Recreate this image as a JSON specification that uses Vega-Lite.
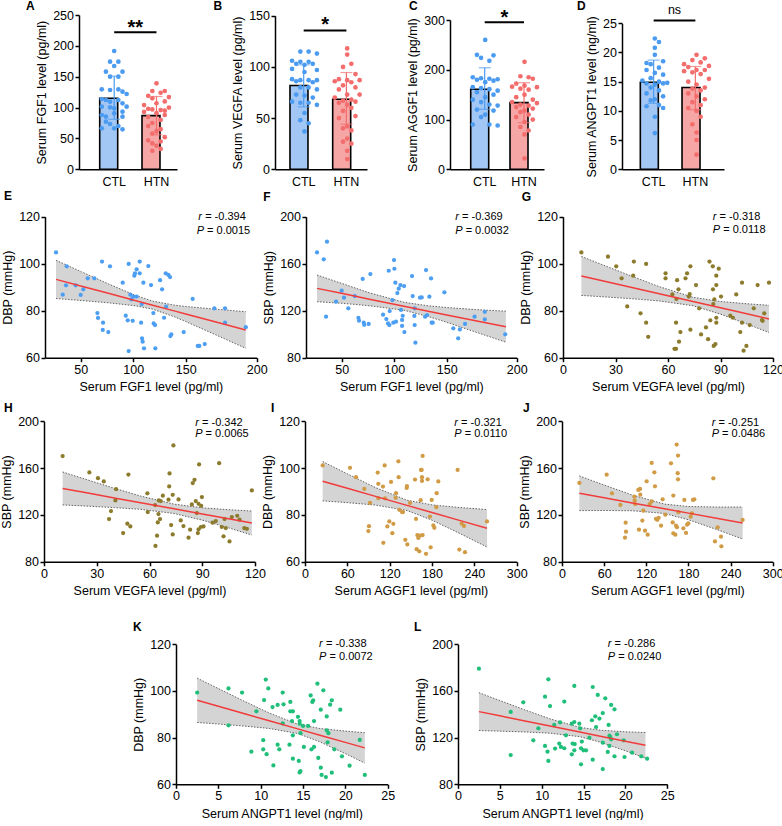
{
"$schema":"https://vega.github.io/schema/vega-lite/v6.json",
"padding":0,
"background":"white",
"config":{
 "view":{"stroke":null},
 "font":"Liberation Sans",
 "axis":{"domainColor":"#000","domainWidth":1.5,"tickColor":"#000","tickWidth":1.5,"tickSize":4,"labelColor":"#000","titleColor":"#000","labelFontSize":12.5,"titleFontSize":12.5,"titleFontWeight":"normal","labelPadding":1.5,"grid":false,"labelFlush":false,"labelOverlap":false,"labelFont":"Liberation Sans","titleFont":"Liberation Sans"},
 "axisY":{"titlePadding":4},
 "axisX":{"titlePadding":5},
 "title":{"anchor":"start","frame":"group","fontSize":12,"fontWeight":"bold","font":"Liberation Sans","baseline":"alphabetic","color":"#000"}
},
"datasets":{
 "sumA":[{"g":"CTL","mean":115,"lo":81,"hi":151},{"g":"HTN","mean":87,"lo":56,"hi":118}],
 "sumB":[{"g":"CTL","mean":81.8,"lo":61,"hi":102},{"g":"HTN","mean":68.4,"lo":44,"hi":94.5}],
 "sumC":[{"g":"CTL","mean":160.7,"lo":120.6,"hi":204},{"g":"HTN","mean":134,"lo":93.8,"hi":174}],
 "sumD":[{"g":"CTL","mean":14.9,"lo":11.3,"hi":18.7},{"g":"HTN","mean":14.0,"lo":10.2,"hi":17.6}],
 "sigA":[{"g1":"CTL","g2":"HTN","y":222,"ty":219.7,"t":"**"}],
 "sigB":[{"g1":"CTL","g2":"HTN","y":135.5,"ty":134.6,"t":"*"}],
 "sigC":[{"g1":"CTL","g2":"HTN","y":295.4,"ty":291.7,"t":"*"}],
 "sigD":[{"g1":"CTL","g2":"HTN","y":25.5,"ty":26.6,"t":"ns"}],
 "dotA":[
  {"g":"CTL","v":191.7,"k":0},{"g":"CTL","v":174.4,"k":-1},{"g":"CTL","v":174.4,"k":1},{"g":"CTL","v":167.4,"k":0},{"g":"CTL","v":158.2,"k":-2},{"g":"CTL","v":158.2,"k":2},{"g":"CTL","v":150.1,"k":-1},{"g":"CTL","v":150.1,"k":1},{"g":"CTL","v":129.6,"k":-3},{"g":"CTL","v":128.5,"k":-1},{"g":"CTL","v":129.6,"k":1},{"g":"CTL","v":125.8,"k":2},{"g":"CTL","v":122.0,"k":3},{"g":"CTL","v":113.9,"k":-3},{"g":"CTL","v":112.3,"k":-2},{"g":"CTL","v":109.6,"k":-1},{"g":"CTL","v":112.3,"k":1},{"g":"CTL","v":106.9,"k":2},{"g":"CTL","v":101.5,"k":3},{"g":"CTL","v":101.5,"k":-3},{"g":"CTL","v":100.4,"k":-1},{"g":"CTL","v":98.8,"k":0},{"g":"CTL","v":93.4,"k":2},{"g":"CTL","v":88.0,"k":-3},{"g":"CTL","v":85.3,"k":-2},{"g":"CTL","v":90.7,"k":0},{"g":"CTL","v":85.3,"k":2},{"g":"CTL","v":77.2,"k":-2},{"g":"CTL","v":73.4,"k":-1},{"g":"CTL","v":70.2,"k":1},{"g":"CTL","v":66.4,"k":-3},{"g":"CTL","v":66.4,"k":0},{"g":"CTL","v":64.8,"k":2},
  {"g":"HTN","v":139.3,"k":0},{"g":"HTN","v":126.9,"k":-1},{"g":"HTN","v":126.9,"k":2},{"g":"HTN","v":124,"k":1},{"g":"HTN","v":119,"k":-2},{"g":"HTN","v":117,"k":3},{"g":"HTN","v":115,"k":-1},{"g":"HTN","v":110,"k":2},{"g":"HTN","v":107,"k":0},{"g":"HTN","v":104,"k":-3},{"g":"HTN","v":100,"k":3},{"g":"HTN","v":98,"k":-2},{"g":"HTN","v":97,"k":-1},{"g":"HTN","v":96,"k":1},{"g":"HTN","v":95,"k":2},{"g":"HTN","v":93,"k":-3},{"g":"HTN","v":91,"k":0},{"g":"HTN","v":88,"k":2},{"g":"HTN","v":85,"k":-2},{"g":"HTN","v":80,"k":1},{"g":"HTN","v":75,"k":-1},{"g":"HTN","v":70,"k":-2},{"g":"HTN","v":65,"k":1},{"g":"HTN","v":62,"k":0},{"g":"HTN","v":58,"k":-1},{"g":"HTN","v":52,"k":2},{"g":"HTN","v":47,"k":-2},{"g":"HTN","v":45,"k":1},{"g":"HTN","v":42,"k":-1},{"g":"HTN","v":38,"k":0},{"g":"HTN","v":33,"k":1},{"g":"HTN","v":30,"k":-1}],
 "dotB":[
  {"g":"CTL","v":115,"k":-1},{"g":"CTL","v":115,"k":1},{"g":"CTL","v":113,"k":3},{"g":"CTL","v":106,"k":-3},{"g":"CTL","v":105,"k":-1},{"g":"CTL","v":105,"k":1},{"g":"CTL","v":103,"k":-2},{"g":"CTL","v":103,"k":2},{"g":"CTL","v":102,"k":0},{"g":"CTL","v":98,"k":-3},{"g":"CTL","v":97,"k":3},{"g":"CTL","v":95,"k":0},{"g":"CTL","v":88,"k":-3},{"g":"CTL","v":87,"k":-1},{"g":"CTL","v":87,"k":1},{"g":"CTL","v":87,"k":3},{"g":"CTL","v":86,"k":-2},{"g":"CTL","v":85,"k":2},{"g":"CTL","v":80,"k":-1},{"g":"CTL","v":80,"k":1},{"g":"CTL","v":78,"k":3},{"g":"CTL","v":73,"k":-2},{"g":"CTL","v":72,"k":0},{"g":"CTL","v":70,"k":2},{"g":"CTL","v":66,"k":-3},{"g":"CTL","v":65,"k":-1},{"g":"CTL","v":65,"k":1},{"g":"CTL","v":63,"k":3},{"g":"CTL","v":55,"k":0},{"g":"CTL","v":48,"k":-1},{"g":"CTL","v":45,"k":1},{"g":"CTL","v":37,"k":0},
  {"g":"HTN","v":118,"k":0},{"g":"HTN","v":112,"k":0},{"g":"HTN","v":103,"k":1},{"g":"HTN","v":100,"k":-1},{"g":"HTN","v":93,"k":2},{"g":"HTN","v":88,"k":-2},{"g":"HTN","v":87,"k":0},{"g":"HTN","v":87,"k":3},{"g":"HTN","v":86,"k":-3},{"g":"HTN","v":85,"k":1},{"g":"HTN","v":82,"k":-1},{"g":"HTN","v":80,"k":2},{"g":"HTN","v":78,"k":-2},{"g":"HTN","v":73,"k":0},{"g":"HTN","v":73,"k":3},{"g":"HTN","v":70,"k":-3},{"g":"HTN","v":68,"k":1},{"g":"HTN","v":67,"k":-1},{"g":"HTN","v":66,"k":2},{"g":"HTN","v":65,"k":-2},{"g":"HTN","v":63,"k":0},{"g":"HTN","v":60,"k":1},{"g":"HTN","v":57,"k":-1},{"g":"HTN","v":52,"k":2},{"g":"HTN","v":50,"k":-2},{"g":"HTN","v":42,"k":0},{"g":"HTN","v":40,"k":-1},{"g":"HTN","v":38,"k":1},{"g":"HTN","v":30,"k":0},{"g":"HTN","v":27,"k":-1},{"g":"HTN","v":25,"k":1},{"g":"HTN","v":18,"k":0},{"g":"HTN","v":10,"k":0}],
 "dotC":[
  {"g":"CTL","v":260,"k":0},{"g":"CTL","v":230,"k":-2},{"g":"CTL","v":229,"k":2},{"g":"CTL","v":224,"k":-1},{"g":"CTL","v":218,"k":1},{"g":"CTL","v":185,"k":-3},{"g":"CTL","v":183,"k":-1},{"g":"CTL","v":182,"k":1},{"g":"CTL","v":181,"k":3},{"g":"CTL","v":180,"k":-2},{"g":"CTL","v":178,"k":2},{"g":"CTL","v":175,"k":0},{"g":"CTL","v":165,"k":-3},{"g":"CTL","v":163,"k":-1},{"g":"CTL","v":161,"k":1},{"g":"CTL","v":158,"k":3},{"g":"CTL","v":155,"k":-2},{"g":"CTL","v":150,"k":2},{"g":"CTL","v":145,"k":0},{"g":"CTL","v":140,"k":-3},{"g":"CTL","v":135,"k":-1},{"g":"CTL","v":130,"k":1},{"g":"CTL","v":128,"k":3},{"g":"CTL","v":120,"k":-2},{"g":"CTL","v":118,"k":2},{"g":"CTL","v":110,"k":0},{"g":"CTL","v":105,"k":-1},{"g":"CTL","v":90,"k":-3},{"g":"CTL","v":90,"k":1},{"g":"CTL","v":88,"k":3},
  {"g":"HTN","v":216,"k":0},{"g":"HTN","v":187,"k":-1},{"g":"HTN","v":185,"k":1},{"g":"HTN","v":182,"k":2},{"g":"HTN","v":172,"k":-2},{"g":"HTN","v":168,"k":0},{"g":"HTN","v":166,"k":-3},{"g":"HTN","v":165,"k":3},{"g":"HTN","v":162,"k":-1},{"g":"HTN","v":160,"k":1},{"g":"HTN","v":150,"k":0},{"g":"HTN","v":145,"k":-2},{"g":"HTN","v":140,"k":2},{"g":"HTN","v":135,"k":-3},{"g":"HTN","v":133,"k":3},{"g":"HTN","v":130,"k":-1},{"g":"HTN","v":128,"k":1},{"g":"HTN","v":125,"k":-2},{"g":"HTN","v":122,"k":2},{"g":"HTN","v":118,"k":0},{"g":"HTN","v":115,"k":-1},{"g":"HTN","v":110,"k":1},{"g":"HTN","v":105,"k":-2},{"g":"HTN","v":100,"k":2},{"g":"HTN","v":95,"k":0},{"g":"HTN","v":85,"k":-1},{"g":"HTN","v":78,"k":1},{"g":"HTN","v":70,"k":0},{"g":"HTN","v":22,"k":0}],
 "dotD":[
  {"g":"CTL","v":22.4,"k":0},{"g":"CTL","v":21.8,"k":1},{"g":"CTL","v":20.8,"k":0},{"g":"CTL","v":19.6,"k":0},{"g":"CTL","v":18.5,"k":2},{"g":"CTL","v":18.2,"k":-2},{"g":"CTL","v":18.0,"k":-1},{"g":"CTL","v":17.4,"k":1},{"g":"CTL","v":17.0,"k":-2},{"g":"CTL","v":16.5,"k":0},{"g":"CTL","v":16.2,"k":2},{"g":"CTL","v":15.6,"k":-1},{"g":"CTL","v":15.2,"k":-3},{"g":"CTL","v":15.0,"k":1},{"g":"CTL","v":14.8,"k":3},{"g":"CTL","v":14.7,"k":-2},{"g":"CTL","v":14.7,"k":2},{"g":"CTL","v":14.5,"k":0},{"g":"CTL","v":14.0,"k":-1},{"g":"CTL","v":13.5,"k":1},{"g":"CTL","v":13.0,"k":-2},{"g":"CTL","v":12.5,"k":2},{"g":"CTL","v":12.0,"k":0},{"g":"CTL","v":11.8,"k":-1},{"g":"CTL","v":11.0,"k":1},{"g":"CTL","v":10.8,"k":-2},{"g":"CTL","v":10.5,"k":2},{"g":"CTL","v":9.0,"k":0},{"g":"CTL","v":6.2,"k":0},
  {"g":"HTN","v":19.6,"k":0},{"g":"HTN","v":19.0,"k":2},{"g":"HTN","v":18.7,"k":-1},{"g":"HTN","v":18.3,"k":1},{"g":"HTN","v":18.0,"k":-3},{"g":"HTN","v":17.7,"k":3},{"g":"HTN","v":17.5,"k":-2},{"g":"HTN","v":17.0,"k":0},{"g":"HTN","v":17.0,"k":2},{"g":"HTN","v":16.8,"k":-3},{"g":"HTN","v":16.6,"k":-1},{"g":"HTN","v":16.3,"k":1},{"g":"HTN","v":15.5,"k":3},{"g":"HTN","v":15.0,"k":-2},{"g":"HTN","v":14.5,"k":0},{"g":"HTN","v":14.0,"k":2},{"g":"HTN","v":13.8,"k":-1},{"g":"HTN","v":13.5,"k":1},{"g":"HTN","v":13.0,"k":-2},{"g":"HTN","v":12.5,"k":0},{"g":"HTN","v":12.0,"k":2},{"g":"HTN","v":11.5,"k":-1},{"g":"HTN","v":11.0,"k":1},{"g":"HTN","v":10.5,"k":-2},{"g":"HTN","v":10.0,"k":0},{"g":"HTN","v":9.0,"k":1},{"g":"HTN","v":7.7,"k":-1},{"g":"HTN","v":6.3,"k":0},{"g":"HTN","v":5.0,"k":0},{"g":"HTN","v":2.5,"k":0}],
 "ptE":[{"x":26.5,"y":104.8},{"x":36.7,"y":98.9},{"x":36.0,"y":90.8},{"x":32.9,"y":86.8},{"x":45.2,"y":90.8},{"x":50,"y":86.7},{"x":52.5,"y":89.1},{"x":56.7,"y":93.8},{"x":63.0,"y":93.8},{"x":65.9,"y":79.0},{"x":66.5,"y":76.9},{"x":70.3,"y":100.9},{"x":71.3,"y":74.9},{"x":71.0,"y":71.8},{"x":76.3,"y":70.9},{"x":77.9,"y":98.9},{"x":90.0,"y":91.9},{"x":92.9,"y":77.9},{"x":94.8,"y":75.9},{"x":95.7,"y":99.9},{"x":95.7,"y":62.8},{"x":97.3,"y":86.8},{"x":98.3,"y":84.8},{"x":100.2,"y":86.0},{"x":99.5,"y":75.7},{"x":101.1,"y":94.9},{"x":101.7,"y":95.9},{"x":103.3,"y":97.6},{"x":103.3,"y":86.0},{"x":106.2,"y":100.9},{"x":106.2,"y":95.9},{"x":107.5,"y":74.9},{"x":108.1,"y":82.8},{"x":108.4,"y":68.2},{"x":109.0,"y":66.8},{"x":109.7,"y":91.9},{"x":110.3,"y":64.0},{"x":114.4,"y":99.0},{"x":117.0,"y":90.9},{"x":119.2,"y":79.0},{"x":119.5,"y":74.6},{"x":120.8,"y":73.9},{"x":121.1,"y":64.0},{"x":125.6,"y":93.0},{"x":127.5,"y":89.1},{"x":129.4,"y":77.0},{"x":131.0,"y":95.9},{"x":131.3,"y":81.7},{"x":133.5,"y":95.2},{"x":135.1,"y":94.3},{"x":135.4,"y":69.2},{"x":136.3,"y":69.9},{"x":148.1,"y":70.9},{"x":154.9,"y":85.0},{"x":158.5,"y":65.0},{"x":159.6,"y":65.0},{"x":163.4,"y":65.8},{"x":170.2,"y":81.0},{"x":177.7,"y":81.0},{"x":177.7,"y":74.9},{"x":192.3,"y":73.0}],
 "fitE":[{"x":26.5,"y":93.33,"lo":85.19,"hi":101.47},{"x":50.95,"y":90.41,"lo":84.32,"hi":96.5},{"x":76.35,"y":87.39,"lo":83.36,"hi":91.42},{"x":101.75,"y":84.35,"lo":82.11,"hi":86.6},{"x":118.57,"y":82.35,"lo":80.65,"hi":84.06},{"x":139.84,"y":79.82,"lo":77.3,"hi":82.33},{"x":150,"y":78.6,"lo":75.39,"hi":81.8},{"x":170.66,"y":75.26,"lo":69.86,"hi":80.67},{"x":192.3,"y":71.77,"lo":63.99,"hi":79.56}],
 "annE":[{"x":158.9,"y":120,"sym":"r","val":"= -0.394"},{"x":157.7,"y":114,"sym":"P","val":"= 0.0015"}],
 "ptF":[{"x":26.5,"y":169.6},{"x":32.9,"y":163.7},{"x":36.0,"y":178.7},{"x":35.1,"y":114.9},{"x":44.6,"y":127.7},{"x":50,"y":137.0},{"x":52.2,"y":131.1},{"x":56.3,"y":122.0},{"x":62.4,"y":132.5},{"x":65.9,"y":114.0},{"x":66.5,"y":111.5},{"x":70.0,"y":147.0},{"x":71.0,"y":109.8},{"x":71.5,"y":108.0},{"x":75.7,"y":108.7},{"x":77.3,"y":151.2},{"x":89.4,"y":116.6},{"x":92.5,"y":112.9},{"x":94.1,"y":109.2},{"x":94.8,"y":154.0},{"x":95.4,"y":107.8},{"x":95.7,"y":119.7},{"x":98.3,"y":129.1},{"x":99.2,"y":109.8},{"x":99.8,"y":163.1},{"x":100.2,"y":155.7},{"x":101.1,"y":143.8},{"x":101.7,"y":110.6},{"x":103.0,"y":135.0},{"x":104.3,"y":138.7},{"x":105.9,"y":141.8},{"x":106.5,"y":120.6},{"x":107.5,"y":112.1},{"x":107.5,"y":107.0},{"x":108.1,"y":115.7},{"x":109.4,"y":141.0},{"x":109.7,"y":101.8},{"x":117.0,"y":149.5},{"x":117.6,"y":132.5},{"x":119.2,"y":115.5},{"x":119.5,"y":122.0},{"x":119.5,"y":107.8},{"x":120.2,"y":92.8},{"x":124.6,"y":131.1},{"x":126.2,"y":131.3},{"x":129.4,"y":114.9},{"x":130.3,"y":154.6},{"x":131.3,"y":116.3},{"x":133.5,"y":131.9},{"x":135.1,"y":147.5},{"x":135.7,"y":109.8},{"x":136.7,"y":109.8},{"x":147.8,"y":135.6},{"x":154.7,"y":105.0},{"x":158.2,"y":96.5},{"x":159.4,"y":104.1},{"x":163.1,"y":108.7},{"x":169.9,"y":114.9},{"x":177.2,"y":119.1},{"x":177.2,"y":112.6},{"x":191.8,"y":99.9}],
 "fitF":[{"x":26.5,"y":139.01,"lo":127.66,"hi":150.35},{"x":50.95,"y":134.59,"lo":126.24,"hi":142.94},{"x":76.35,"y":129.72,"lo":124.21,"hi":135.23},{"x":109.37,"y":123.76,"lo":120.36,"hi":127.16},{"x":133.5,"y":119.4,"lo":114.76,"hi":124.04},{"x":150,"y":116.43,"lo":110.13,"hi":122.73},{"x":170.66,"y":111.38,"lo":101.79,"hi":120.96},{"x":192.3,"y":106.38,"lo":93.19,"hi":119.57}],
 "annF":[{"x":156.1,"y":200,"sym":"r","val":"= -0.369"},{"x":156.1,"y":188.1,"sym":"P","val":"= 0.0032"}],
 "ptG":[{"x":10.5,"y":104.8},{"x":25.7,"y":103.0},{"x":30.4,"y":98.9},{"x":33.5,"y":93.8},{"x":36.7,"y":81.8},{"x":40.5,"y":100.9},{"x":40.1,"y":94.9},{"x":44.3,"y":78.9},{"x":47.5,"y":99.9},{"x":47.5,"y":74.9},{"x":48.7,"y":68.9},{"x":58.6,"y":95.9},{"x":58.6,"y":93.8},{"x":62.5,"y":86.9},{"x":63.7,"y":63.8},{"x":64.6,"y":63.8},{"x":64.6,"y":74.9},{"x":64.8,"y":85.0},{"x":65.2,"y":93.0},{"x":66.0,"y":89.1},{"x":66.3,"y":66.8},{"x":67.1,"y":70.9},{"x":70.0,"y":93.8},{"x":70.9,"y":95.9},{"x":71.9,"y":86.0},{"x":72.4,"y":87.1},{"x":72.8,"y":98.9},{"x":72.8,"y":71.9},{"x":76.0,"y":90.9},{"x":77.8,"y":81.0},{"x":78.9,"y":69.9},{"x":81.7,"y":72.9},{"x":82.9,"y":67.9},{"x":83.7,"y":100.9},{"x":84.2,"y":75.9},{"x":85.6,"y":98.9},{"x":85.7,"y":89.1},{"x":85.9,"y":82.8},{"x":86.1,"y":65.0},{"x":86.5,"y":84.8},{"x":87.1,"y":65.8},{"x":87.6,"y":90.9},{"x":87.6,"y":94.9},{"x":87.6,"y":77.0},{"x":87.6,"y":74.9},{"x":89.0,"y":97.9},{"x":90.3,"y":86.0},{"x":95.6,"y":77.9},{"x":97.1,"y":77.0},{"x":99.0,"y":86.9},{"x":101.3,"y":70.9},{"x":102.3,"y":74.9},{"x":102.3,"y":91.9},{"x":103.2,"y":63.0},{"x":104.8,"y":65.0},{"x":106.7,"y":73.9},{"x":109.0,"y":81.0},{"x":111.2,"y":90.9},{"x":113.7,"y":76.0},{"x":114.1,"y":75.7},{"x":115.0,"y":78.9},{"x":117.7,"y":91.9}],
 "fitG":[{"x":10.5,"y":94.8,"lo":86.5,"hi":103.1},{"x":25,"y":92.32,"lo":85.81,"hi":98.83},{"x":40,"y":89.76,"lo":85.05,"hi":94.47},{"x":55,"y":87.2,"lo":84.16,"hi":90.24},{"x":74.3,"y":83.91,"lo":82.11,"hi":85.71},{"x":90,"y":81.23,"lo":78.54,"hi":83.92},{"x":105,"y":78.67,"lo":74.38,"hi":82.96},{"x":117.7,"y":76.5,"lo":70.7,"hi":82.3}],
 "annG":[{"x":85.6,"y":120,"sym":"r","val":"= -0.318"},{"x":85.6,"y":114.3,"sym":"P","val":"= 0.0118"}],
 "ptH":[{"x":10.6,"y":170.2},{"x":25.8,"y":156.3},{"x":30.7,"y":151.4},{"x":34.0,"y":148.6},{"x":37.0,"y":116.5},{"x":38.1,"y":123.3},{"x":41.0,"y":142.0},{"x":40.6,"y":132.4},{"x":45.0,"y":104.5},{"x":48.0,"y":154.5},{"x":47.4,"y":112.5},{"x":49.1,"y":110.2},{"x":58.8,"y":138.4},{"x":59.0,"y":122.4},{"x":63.2,"y":128.4},{"x":63.4,"y":93.5},{"x":64.3,"y":102.3},{"x":64.7,"y":113.6},{"x":65.1,"y":120.7},{"x":65.3,"y":132.4},{"x":66.0,"y":116.5},{"x":66.4,"y":131.8},{"x":67.6,"y":136.4},{"x":70.8,"y":133.0},{"x":71.2,"y":144.3},{"x":71.4,"y":155.4},{"x":72.3,"y":111.4},{"x":73.2,"y":137.2},{"x":73.2,"y":103.4},{"x":73.6,"y":179.3},{"x":76.5,"y":133.2},{"x":77.8,"y":115.3},{"x":79.3,"y":110.5},{"x":82.2,"y":100.6},{"x":83.1,"y":107.4},{"x":84.1,"y":129.0},{"x":84.6,"y":147.2},{"x":85.6,"y":150.0},{"x":86.3,"y":131.8},{"x":86.9,"y":121.6},{"x":87.5,"y":104.5},{"x":87.9,"y":129.5},{"x":87.9,"y":107.7},{"x":88.2,"y":163.1},{"x":89.2,"y":109.7},{"x":89.4,"y":127.8},{"x":89.8,"y":135.2},{"x":90.7,"y":110.2},{"x":95.8,"y":113.4},{"x":97.7,"y":114.8},{"x":99.6,"y":164.2},{"x":101.1,"y":109.7},{"x":102.1,"y":101.7},{"x":102.7,"y":116.5},{"x":103.4,"y":108.8},{"x":105.5,"y":97.4},{"x":106.8,"y":118.2},{"x":109.9,"y":119.3},{"x":111.2,"y":115.9},{"x":113.9,"y":108.8},{"x":115.4,"y":108.2},{"x":118.2,"y":140.9}],
 "fitH":[{"x":10.6,"y":142.6,"lo":128.55,"hi":156.65},{"x":25,"y":138.65,"lo":127.5,"hi":149.8},{"x":40,"y":134.5,"lo":126.25,"hi":142.75},{"x":55,"y":130.43,"lo":124.76,"hi":136.1},{"x":73.9,"y":125.24,"lo":121.24,"hi":129.24},{"x":90,"y":120.83,"lo":115.56,"hi":126.1},{"x":105,"y":116.71,"lo":108.98,"hi":124.44},{"x":118.2,"y":113.1,"lo":102.85,"hi":123.35}],
 "annH":[{"x":86,"y":198.3,"sym":"r","val":"= -0.342"},{"x":86,"y":189.2,"sym":"P","val":"= 0.0065"}],
 "ptI":[{"x":25.0,"y":101.1},{"x":63.8,"y":100.1},{"x":72.3,"y":96.1},{"x":84.1,"y":91.1},{"x":92.1,"y":85.1},{"x":90.7,"y":75.2},{"x":89.8,"y":73.1},{"x":103.0,"y":98.1},{"x":103.9,"y":93.3},{"x":103.9,"y":87.1},{"x":110.5,"y":92.1},{"x":111.0,"y":68.1},{"x":112.9,"y":101.1},{"x":113.4,"y":87.1},{"x":116.7,"y":75.1},{"x":119.5,"y":77.2},{"x":121.9,"y":94.1},{"x":125.2,"y":76.2},{"x":123.8,"y":72.2},{"x":129.0,"y":89.3},{"x":128.5,"y":87.3},{"x":132.3,"y":102.9},{"x":132.7,"y":96.1},{"x":133.7,"y":82.2},{"x":137.5,"y":81.2},{"x":138.9,"y":81.2},{"x":142.2,"y":69.4},{"x":144.1,"y":91.5},{"x":144.5,"y":92.3},{"x":145.0,"y":67.4},{"x":148.8,"y":85.1},{"x":155.9,"y":95.1},{"x":157.3,"y":78.3},{"x":158.2,"y":65.4},{"x":159.2,"y":71.4},{"x":160.6,"y":70.2},{"x":162.0,"y":64.5},{"x":163.0,"y":71.2},{"x":163.9,"y":86.3},{"x":164.4,"y":99.2},{"x":165.3,"y":99.2},{"x":165.8,"y":96.1},{"x":165.8,"y":94.5},{"x":166.7,"y":105.2},{"x":166.7,"y":71.4},{"x":171.5,"y":63.4},{"x":173.8,"y":95.2},{"x":177.1,"y":79.3},{"x":178.1,"y":66.2},{"x":179.5,"y":86.4},{"x":181.9,"y":75.5},{"x":183.3,"y":74.5},{"x":186.1,"y":83.3},{"x":186.6,"y":89.3},{"x":188.9,"y":94.3},{"x":216.3,"y":99.2},{"x":218.7,"y":65.2},{"x":222.0,"y":76.3},{"x":225.3,"y":75.3},{"x":226.7,"y":64.1},{"x":257.9,"y":77.2}],
 "fitI":[{"x":25,"y":94.4,"lo":86.0,"hi":102.8},{"x":60,"y":91.38,"lo":85.24,"hi":97.52},{"x":100,"y":87.93,"lo":84.2,"hi":91.66},{"x":144.5,"y":84.09,"lo":81.89,"hi":86.29},{"x":180,"y":81.03,"lo":77.77,"hi":84.29},{"x":220,"y":77.57,"lo":72.0,"hi":83.14},{"x":257.9,"y":74.3,"lo":66.3,"hi":82.3}],
 "annI":[{"x":211.6,"y":119.1,"sym":"r","val":"= -0.321"},{"x":211.6,"y":114.6,"sym":"P","val":"= 0.0110"}],
 "ptJ":[{"x":24.7,"y":147.3},{"x":63.6,"y":154.4},{"x":71.2,"y":138.5},{"x":83.1,"y":128.5},{"x":89.7,"y":100.6},{"x":90.6,"y":113.4},{"x":91.1,"y":105.7},{"x":103.0,"y":135.6},{"x":103.5,"y":132.2},{"x":104.0,"y":129.3},{"x":108.7,"y":141.3},{"x":109.6,"y":107.4},{"x":111.1,"y":142.2},{"x":111.5,"y":137.3},{"x":114.4,"y":115.2},{"x":115.8,"y":123.6},{"x":118.2,"y":106.6},{"x":120.5,"y":148.7},{"x":122.0,"y":103.1},{"x":124.8,"y":129.3},{"x":127.7,"y":131.5},{"x":127.7,"y":164.4},{"x":131.5,"y":156.4},{"x":132.4,"y":144.4},{"x":133.8,"y":116.7},{"x":135.7,"y":115.8},{"x":137.6,"y":117.5},{"x":141.0,"y":110.8},{"x":143.3,"y":133.3},{"x":147.1,"y":120.2},{"x":155.2,"y":164.1},{"x":157.6,"y":113.6},{"x":158.5,"y":136.5},{"x":158.5,"y":104.3},{"x":161.4,"y":103.1},{"x":162.3,"y":110.8},{"x":163.3,"y":180.1},{"x":164.7,"y":155.6},{"x":165.2,"y":150.4},{"x":165.2,"y":170.7},{"x":165.7,"y":122.3},{"x":163.7,"y":109.5},{"x":172.8,"y":108.6},{"x":174.2,"y":132.8},{"x":176.6,"y":104.6},{"x":178.0,"y":111.7},{"x":179.9,"y":112.8},{"x":183.2,"y":118.5},{"x":185.1,"y":121.4},{"x":186.5,"y":132.8},{"x":188.4,"y":133.3},{"x":215.5,"y":151.3},{"x":217.8,"y":97.4},{"x":221.6,"y":109.4},{"x":226.4,"y":101.4},{"x":226.9,"y":93.2},{"x":257.2,"y":115.7}],
 "fitJ":[{"x":24.7,"y":138.5,"lo":123.7,"hi":153.3},{"x":60,"y":134.65,"lo":123.79,"hi":145.51},{"x":100,"y":130.28,"lo":123.56,"hi":137.0},{"x":146,"y":125.25,"lo":121.25,"hi":129.25},{"x":180,"y":121.54,"lo":115.89,"hi":127.19},{"x":220,"y":117.17,"lo":107.6,"hi":126.74},{"x":257.2,"y":113.1,"lo":99.45,"hi":126.75}],
 "annJ":[{"x":213.1,"y":198.3,"sym":"r","val":"= -0.251"},{"x":213.1,"y":189.2,"sym":"P","val":"= 0.0486"}],
 "ptK":[{"x":2.5,"y":99.3},{"x":6.2,"y":101.1},{"x":6.2,"y":85.3},{"x":7.8,"y":99.3},{"x":9.5,"y":91.3},{"x":8.9,"y":74.0},{"x":10.3,"y":78.9},{"x":10.3,"y":75.0},{"x":10.6,"y":104.9},{"x":10.7,"y":72.9},{"x":10.9,"y":101.1},{"x":10.4,"y":96.1},{"x":11.4,"y":93.1},{"x":11.5,"y":68.1},{"x":12.0,"y":94.0},{"x":12.0,"y":77.0},{"x":12.2,"y":75.0},{"x":12.6,"y":99.3},{"x":12.7,"y":94.3},{"x":12.6,"y":86.1},{"x":13.5,"y":95.3},{"x":13.4,"y":77.0},{"x":13.5,"y":91.3},{"x":13.8,"y":91.3},{"x":13.7,"y":87.1},{"x":13.8,"y":81.0},{"x":13.8,"y":71.0},{"x":14.4,"y":88.9},{"x":14.5,"y":70.0},{"x":14.6,"y":87.1},{"x":14.6,"y":86.0},{"x":14.6,"y":65.1},{"x":14.7,"y":65.7},{"x":14.7,"y":81.9},{"x":15.0,"y":85.0},{"x":15.1,"y":76.0},{"x":15.6,"y":85.0},{"x":15.9,"y":98.1},{"x":16.1,"y":95.3},{"x":16.2,"y":96.0},{"x":16.0,"y":75.0},{"x":16.3,"y":76.0},{"x":16.3,"y":87.1},{"x":16.7,"y":103.1},{"x":16.8,"y":71.3},{"x":17.1,"y":92.0},{"x":17.1,"y":67.1},{"x":17.2,"y":64.0},{"x":17.4,"y":100.3},{"x":17.7,"y":63.1},{"x":17.8,"y":89.1},{"x":17.8,"y":83.1},{"x":17.9,"y":78.0},{"x":18.0,"y":81.9},{"x":18.2,"y":94.1},{"x":18.4,"y":96.0},{"x":18.4,"y":65.0},{"x":18.7,"y":75.0},{"x":19.4,"y":92.0},{"x":19.6,"y":72.0},{"x":20.5,"y":68.0},{"x":21.7,"y":79.0},{"x":22.3,"y":64.0}],
 "fitK":[{"x":2.5,"y":96.0,"lo":86.5,"hi":105.5},{"x":5,"y":93.43,"lo":85.83,"hi":101.03},{"x":8,"y":90.34,"lo":84.97,"hi":95.71},{"x":11,"y":87.25,"lo":83.94,"hi":90.56},{"x":14.38,"y":83.76,"lo":81.76,"hi":85.76},{"x":17,"y":81.06,"lo":78.2,"hi":83.92},{"x":20,"y":77.97,"lo":73.14,"hi":82.8},{"x":22.3,"y":75.6,"lo":69.1,"hi":82.1}],
 "annK":[{"x":16.9,"y":120,"sym":"r","val":"= -0.338"},{"x":16.9,"y":114.6,"sym":"P","val":"= 0.0072"}],
 "ptL":[{"x":2.5,"y":179.1},{"x":6.3,"y":142.0},{"x":6.3,"y":105.1},{"x":7.8,"y":150.3},{"x":9.0,"y":117.7},{"x":9.6,"y":128.0},{"x":10.4,"y":155.1},{"x":10.4,"y":112.9},{"x":10.7,"y":108.0},{"x":10.8,"y":170.0},{"x":10.8,"y":100.0},{"x":11.0,"y":147.1},{"x":11.5,"y":130.9},{"x":11.6,"y":110.6},{"x":12.1,"y":114.9},{"x":12.2,"y":133.0},{"x":12.3,"y":112.0},{"x":12.7,"y":110.9},{"x":12.7,"y":150.9},{"x":12.9,"y":122.0},{"x":13.6,"y":105.7},{"x":13.6,"y":132.0},{"x":13.7,"y":114.9},{"x":13.9,"y":133.4},{"x":13.9,"y":164.3},{"x":13.95,"y":114.5},{"x":13.9,"y":109.1},{"x":14.5,"y":132.0},{"x":14.6,"y":128.0},{"x":14.7,"y":110.9},{"x":14.7,"y":97.1},{"x":14.8,"y":116.6},{"x":15.0,"y":109.1},{"x":15.3,"y":109.1},{"x":15.7,"y":120.0},{"x":16.0,"y":134.9},{"x":16.1,"y":163.4},{"x":16.1,"y":101.1},{"x":16.4,"y":138.3},{"x":16.5,"y":129.1},{"x":16.7,"y":156.6},{"x":16.9,"y":136.3},{"x":17.3,"y":115.7},{"x":17.3,"y":93.1},{"x":17.3,"y":141.1},{"x":17.6,"y":153.7},{"x":17.9,"y":107.7},{"x":18.0,"y":130.9},{"x":18.1,"y":112.9},{"x":18.1,"y":121.7},{"x":18.2,"y":120.6},{"x":18.3,"y":118.6},{"x":18.3,"y":148.0},{"x":18.7,"y":144.3},{"x":18.7,"y":104.0},{"x":19.0,"y":122.9},{"x":19.8,"y":117.7},{"x":19.9,"y":103.4},{"x":20.8,"y":107.1},{"x":21.9,"y":104.0},{"x":22.6,"y":102.0}],
 "fitL":[{"x":2.5,"y":142.3,"lo":126.05,"hi":158.55},{"x":5,"y":138.67,"lo":125.56,"hi":151.78},{"x":8,"y":134.31,"lo":124.86,"hi":143.76},{"x":11,"y":129.95,"lo":123.82,"hi":136.08},{"x":14.56,"y":124.79,"lo":120.79,"hi":128.79},{"x":17,"y":121.25,"lo":116.14,"hi":126.36},{"x":20,"y":116.89,"lo":108.74,"hi":125.04},{"x":22.4,"y":113.4,"lo":102.41,"hi":124.39}],
 "annL":[{"x":17.9,"y":200,"sym":"r","val":"= -0.286"},{"x":17.9,"y":189.1,"sym":"P","val":"= 0.0240"}]
},
"spacing":0,
"vconcat":[
 {"spacing":0,"bounds":"flush","hconcat":[
  {"width":77.7,"height":206,"title":{"text":"E","orient":"bottom","dx":3,"offset":-14.7},"data":{"values":[]},"mark":"point"},
  {"width":98,"height":169.3,"title":{"text":"A","dx":-53,"offset":-13.3},
   "layer":[
    {"data":{"name":"sumA"},"mark":{"type":"bar","stroke":"#000","strokeWidth":1.6},
     "encoding":{"x":{"field":"g","type":"nominal","scale":{"domain":["CTL","HTN"],"paddingInner":0.314,"paddingOuter":0.316,"align":0.775},"axis":{"title":null,"ticks":false,"labelAngle":0,"labelPadding":6}},
      "y":{"field":"mean","type":"quantitative","scale":{"domain":[0,250],"range":[169.3,15],"nice":false},"axis":{"values":[0,50,100,150,200,250],"title":"Serum FGF1 level (pg/ml)"}},
      "fill":{"field":"g","type":"nominal","scale":{"domain":["CTL","HTN"],"range":["#a3c7f4","#f7a6a6"]},"legend":null}}},
    {"data":{"name":"dotA"},"mark":{"type":"circle","size":22,"opacity":1},
     "encoding":{"x":{"field":"g","type":"nominal"},"xOffset":{"field":"k","type":"quantitative","scale":{"domain":[-3.5,3.5]}},"y":{"field":"v","type":"quantitative","axis":{"values":[0,50,100,150,200,250],"title":"Serum FGF1 level (pg/ml)"}},"color":{"field":"g","type":"nominal","scale":{"domain":["CTL","HTN"],"range":["#4b9bf0","#f36d6d"]},"legend":null}}},
    {"data":{"name":"sumA"},"mark":{"type":"rule","strokeWidth":1.2},"encoding":{"x":{"field":"g","type":"nominal"},"y":{"field":"lo","type":"quantitative","axis":{"values":[0,50,100,150,200,250],"title":"Serum FGF1 level (pg/ml)"}},"y2":{"field":"hi"},"color":{"field":"g","type":"nominal"}}},
    {"data":{"name":"sumA"},"mark":{"type":"tick","thickness":1.2,"size":12},"encoding":{"x":{"field":"g","type":"nominal"},"y":{"field":"hi","type":"quantitative","axis":{"values":[0,50,100,150,200,250],"title":"Serum FGF1 level (pg/ml)"}},"color":{"field":"g","type":"nominal"}}},
    {"data":{"name":"sumA"},"mark":{"type":"tick","thickness":1.2,"size":12},"encoding":{"x":{"field":"g","type":"nominal"},"y":{"field":"lo","type":"quantitative","axis":{"values":[0,50,100,150,200,250],"title":"Serum FGF1 level (pg/ml)"}},"color":{"field":"g","type":"nominal"}}},
    {"data":{"name":"sigA"},"mark":{"type":"rule","strokeWidth":2,"color":"#000"},"encoding":{"x":{"field":"g1","type":"nominal"},"x2":{"field":"g2"},"y":{"field":"y","type":"quantitative","axis":{"values":[0,50,100,150,200,250],"title":"Serum FGF1 level (pg/ml)"}}}},
    {"data":{"name":"sigA"},"mark":{"type":"text","fontSize":20,"fontWeight":"bold","baseline":"alphabetic","align":"center","color":"#000"},"encoding":{"x":{"field":"g1","type":"nominal","bandPosition":1.229},"y":{"field":"ty","type":"quantitative","axis":{"values":[0,50,100,150,200,250],"title":"Serum FGF1 level (pg/ml)"}},"text":{"field":"t"}}}
   ]},
  {"width":97.6,"height":206,"title":{"text":"F","orient":"bottom","dx":86.3,"offset":-14},"data":{"values":[]},"mark":"point"},
  {"width":92,"height":169.3,"title":{"text":"B","dx":-61.6,"offset":-13.3},
   "layer":[
    {"data":{"name":"sumB"},"mark":{"type":"bar","stroke":"#000","strokeWidth":1.6},
     "encoding":{"x":{"field":"g","type":"nominal","scale":{"domain":["CTL","HTN"],"paddingInner":0.358,"paddingOuter":0.256,"align":0.685},"axis":{"title":null,"ticks":false,"labelAngle":0,"labelPadding":6}},
      "y":{"field":"mean","type":"quantitative","scale":{"domain":[0,150],"range":[169.3,15.7],"nice":false},"axis":{"values":[0,50,100,150],"title":"Serum VEGFA level (pg/ml)"}},
      "fill":{"field":"g","type":"nominal","scale":{"domain":["CTL","HTN"],"range":["#a3c7f4","#f7a6a6"]},"legend":null}}},
    {"data":{"name":"dotB"},"mark":{"type":"circle","size":22,"opacity":1},
     "encoding":{"x":{"field":"g","type":"nominal"},"xOffset":{"field":"k","type":"quantitative","scale":{"domain":[-3.5,3.5]}},"y":{"field":"v","type":"quantitative","axis":{"values":[0,50,100,150],"title":"Serum VEGFA level (pg/ml)"}},"color":{"field":"g","type":"nominal","scale":{"domain":["CTL","HTN"],"range":["#4b9bf0","#f36d6d"]},"legend":null}}},
    {"data":{"name":"sumB"},"mark":{"type":"rule","strokeWidth":1.2},"encoding":{"x":{"field":"g","type":"nominal"},"y":{"field":"lo","type":"quantitative","axis":{"values":[0,50,100,150],"title":"Serum VEGFA level (pg/ml)"}},"y2":{"field":"hi"},"color":{"field":"g","type":"nominal"}}},
    {"data":{"name":"sumB"},"mark":{"type":"tick","thickness":1.2,"size":12},"encoding":{"x":{"field":"g","type":"nominal"},"y":{"field":"hi","type":"quantitative","axis":{"values":[0,50,100,150],"title":"Serum VEGFA level (pg/ml)"}},"color":{"field":"g","type":"nominal"}}},
    {"data":{"name":"sumB"},"mark":{"type":"tick","thickness":1.2,"size":12},"encoding":{"x":{"field":"g","type":"nominal"},"y":{"field":"lo","type":"quantitative","axis":{"values":[0,50,100,150],"title":"Serum VEGFA level (pg/ml)"}},"color":{"field":"g","type":"nominal"}}},
    {"data":{"name":"sigB"},"mark":{"type":"rule","strokeWidth":2,"color":"#000"},"encoding":{"x":{"field":"g1","type":"nominal"},"x2":{"field":"g2"},"y":{"field":"y","type":"quantitative","axis":{"values":[0,50,100,150],"title":"Serum VEGFA level (pg/ml)"}}}},
    {"data":{"name":"sigB"},"mark":{"type":"text","fontSize":20,"fontWeight":"bold","baseline":"alphabetic","align":"center","color":"#000"},"encoding":{"x":{"field":"g1","type":"nominal","bandPosition":1.279},"y":{"field":"ty","type":"quantitative","axis":{"values":[0,50,100,150],"title":"Serum VEGFA level (pg/ml)"}},"text":{"field":"t"}}}
   ]},
  {"width":83,"height":206,"data":{"values":[]},"mark":"point"},
  {"width":94,"height":169.3,"title":{"text":"C","dx":-41,"offset":-13.3},
   "layer":[
    {"data":{"name":"sumC"},"mark":{"type":"bar","stroke":"#000","strokeWidth":1.6},
     "encoding":{"x":{"field":"g","type":"nominal","scale":{"domain":["CTL","HTN"],"paddingInner":0.288,"paddingOuter":0.34,"align":0.775},"axis":{"title":null,"ticks":false,"labelAngle":0,"labelPadding":6}},
      "y":{"field":"mean","type":"quantitative","scale":{"domain":[0,300],"range":[169.3,20],"nice":false},"axis":{"values":[0,100,200,300],"title":"Serum AGGF1 level (pg/ml)"}},
      "fill":{"field":"g","type":"nominal","scale":{"domain":["CTL","HTN"],"range":["#a3c7f4","#f7a6a6"]},"legend":null}}},
    {"data":{"name":"dotC"},"mark":{"type":"circle","size":22,"opacity":1},
     "encoding":{"x":{"field":"g","type":"nominal"},"xOffset":{"field":"k","type":"quantitative","scale":{"domain":[-3.5,3.5]}},"y":{"field":"v","type":"quantitative","axis":{"values":[0,100,200,300],"title":"Serum AGGF1 level (pg/ml)"}},"color":{"field":"g","type":"nominal","scale":{"domain":["CTL","HTN"],"range":["#4b9bf0","#f36d6d"]},"legend":null}}},
    {"data":{"name":"sumC"},"mark":{"type":"rule","strokeWidth":1.2},"encoding":{"x":{"field":"g","type":"nominal"},"y":{"field":"lo","type":"quantitative","axis":{"values":[0,100,200,300],"title":"Serum AGGF1 level (pg/ml)"}},"y2":{"field":"hi"},"color":{"field":"g","type":"nominal"}}},
    {"data":{"name":"sumC"},"mark":{"type":"tick","thickness":1.2,"size":12},"encoding":{"x":{"field":"g","type":"nominal"},"y":{"field":"hi","type":"quantitative","axis":{"values":[0,100,200,300],"title":"Serum AGGF1 level (pg/ml)"}},"color":{"field":"g","type":"nominal"}}},
    {"data":{"name":"sumC"},"mark":{"type":"tick","thickness":1.2,"size":12},"encoding":{"x":{"field":"g","type":"nominal"},"y":{"field":"lo","type":"quantitative","axis":{"values":[0,100,200,300],"title":"Serum AGGF1 level (pg/ml)"}},"color":{"field":"g","type":"nominal"}}},
    {"data":{"name":"sigC"},"mark":{"type":"rule","strokeWidth":2,"color":"#000"},"encoding":{"x":{"field":"g1","type":"nominal"},"x2":{"field":"g2"},"y":{"field":"y","type":"quantitative","axis":{"values":[0,100,200,300],"title":"Serum AGGF1 level (pg/ml)"}}}},
    {"data":{"name":"sigC"},"mark":{"type":"text","fontSize":20,"fontWeight":"bold","baseline":"alphabetic","align":"center","color":"#000"},"encoding":{"x":{"field":"g1","type":"nominal","bandPosition":1.202},"y":{"field":"ty","type":"quantitative","axis":{"values":[0,100,200,300],"title":"Serum AGGF1 level (pg/ml)"}},"text":{"field":"t"}}}
   ]},
  {"width":77.7,"height":206,"title":{"text":"G","orient":"bottom","dx":-22.3,"offset":-14},"data":{"values":[]},"mark":"point"},
  {"width":102,"height":169.3,"title":{"text":"D","dx":-45,"offset":-13.3},
   "layer":[
    {"data":{"name":"sumD"},"mark":{"type":"bar","stroke":"#000","strokeWidth":1.6},
     "encoding":{"x":{"field":"g","type":"nominal","scale":{"domain":["CTL","HTN"],"paddingInner":0.36,"paddingOuter":0.403,"align":0.545},"axis":{"title":null,"ticks":false,"labelAngle":0,"labelPadding":6}},
      "y":{"field":"mean","type":"quantitative","scale":{"domain":[0,25],"range":[169.3,23.3],"nice":false},"axis":{"values":[0,5,10,15,20,25],"title":"Serum ANGPT1 level (ng/ml)"}},
      "fill":{"field":"g","type":"nominal","scale":{"domain":["CTL","HTN"],"range":["#a3c7f4","#f7a6a6"]},"legend":null}}},
    {"data":{"name":"dotD"},"mark":{"type":"circle","size":22,"opacity":1},
     "encoding":{"x":{"field":"g","type":"nominal"},"xOffset":{"field":"k","type":"quantitative","scale":{"domain":[-3.5,3.5]}},"y":{"field":"v","type":"quantitative","axis":{"values":[0,5,10,15,20,25],"title":"Serum ANGPT1 level (ng/ml)"}},"color":{"field":"g","type":"nominal","scale":{"domain":["CTL","HTN"],"range":["#4b9bf0","#f36d6d"]},"legend":null}}},
    {"data":{"name":"sumD"},"mark":{"type":"rule","strokeWidth":1.2},"encoding":{"x":{"field":"g","type":"nominal"},"y":{"field":"lo","type":"quantitative","axis":{"values":[0,5,10,15,20,25],"title":"Serum ANGPT1 level (ng/ml)"}},"y2":{"field":"hi"},"color":{"field":"g","type":"nominal"}}},
    {"data":{"name":"sumD"},"mark":{"type":"tick","thickness":1.2,"size":12},"encoding":{"x":{"field":"g","type":"nominal"},"y":{"field":"hi","type":"quantitative","axis":{"values":[0,5,10,15,20,25],"title":"Serum ANGPT1 level (ng/ml)"}},"color":{"field":"g","type":"nominal"}}},
    {"data":{"name":"sumD"},"mark":{"type":"tick","thickness":1.2,"size":12},"encoding":{"x":{"field":"g","type":"nominal"},"y":{"field":"lo","type":"quantitative","axis":{"values":[0,5,10,15,20,25],"title":"Serum ANGPT1 level (ng/ml)"}},"color":{"field":"g","type":"nominal"}}},
    {"data":{"name":"sigD"},"mark":{"type":"rule","strokeWidth":2,"color":"#000"},"encoding":{"x":{"field":"g1","type":"nominal"},"x2":{"field":"g2"},"y":{"field":"y","type":"quantitative","axis":{"values":[0,5,10,15,20,25],"title":"Serum ANGPT1 level (ng/ml)"}}}},
    {"data":{"name":"sigD"},"mark":{"type":"text","fontSize":12.5,"baseline":"alphabetic","align":"center","color":"#000"},"encoding":{"x":{"field":"g1","type":"nominal","bandPosition":1.281},"y":{"field":"ty","type":"quantitative","axis":{"values":[0,5,10,15,20,25],"title":"Serum ANGPT1 level (ng/ml)"}},"text":{"field":"t"}}}
   ]}
 ]},
 {"spacing":0,"bounds":"flush","hconcat":[
  {"width":43.3,"height":195.5,"data":{"values":[]},"mark":"point"},
  {"width":211.7,"height":151.7,
   "encoding":{"x":{"field":"x","type":"quantitative","scale":{"domain":[16,150,200],"range":[0,140.7,211.7],"nice":false,"zero":false},"axis":{"values":[50,100,150,200],"title":"Serum FGF1 level (pg/ml)"}}},
   "layer":[
    {"data":{"name":"fitE"},"mark":{"type":"area","color":"#d4d4d4"},"encoding":{"y":{"field":"lo","type":"quantitative","scale":{"domain":[60,120],"range":[151.7,10.7],"nice":false,"zero":false},"axis":{"values":[60,80,100,120],"title":"DBP (mmHg)"}},"y2":{"field":"hi"}}},
    {"data":{"name":"fitE"},"mark":{"type":"line","color":"#555","strokeWidth":0.9,"strokeDash":[1.5,1.5]},"encoding":{"y":{"field":"lo","type":"quantitative"}}},
    {"data":{"name":"fitE"},"mark":{"type":"line","color":"#555","strokeWidth":0.9,"strokeDash":[1.5,1.5]},"encoding":{"y":{"field":"hi","type":"quantitative"}}},
    {"data":{"name":"ptE"},"mark":{"type":"circle","size":18,"color":"#4b9ef2","opacity":1},"encoding":{"y":{"field":"y","type":"quantitative"}}},
    {"data":{"name":"fitE"},"mark":{"type":"line","color":"#f23b3b","strokeWidth":1.5},"encoding":{"y":{"field":"y","type":"quantitative"}}},
    {"data":{"name":"annE"},"mark":{"type":"text","fontSize":11,"fontStyle":"italic","align":"left","baseline":"middle"},"encoding":{"y":{"field":"y","type":"quantitative"},"text":{"field":"sym"}}},
    {"data":{"name":"annE"},"transform":[{"filter":"datum.sym == 'r'"}],"mark":{"type":"text","fontSize":11,"align":"left","baseline":"middle","dx":6.8},"encoding":{"y":{"field":"y","type":"quantitative"},"text":{"field":"val"}}},
    {"data":{"name":"annE"},"transform":[{"filter":"datum.sym == 'P'"}],"mark":{"type":"text","fontSize":11,"align":"left","baseline":"middle","dx":10.4},"encoding":{"y":{"field":"y","type":"quantitative"},"text":{"field":"val"}}}
   ]},
  {"width":48.3,"height":1,"data":{"values":[]},"mark":"point"},
  {"width":210.7,"height":151.7,
   "encoding":{"x":{"field":"x","type":"quantitative","scale":{"domain":[16,150,200],"range":[0,140.7,210.7],"nice":false,"zero":false},"axis":{"values":[50,100,150,200],"title":"Serum FGF1 level (pg/ml)"}}},
   "layer":[
    {"data":{"name":"fitF"},"mark":{"type":"area","color":"#d4d4d4"},"encoding":{"y":{"field":"lo","type":"quantitative","scale":{"domain":[80,200],"range":[151.7,10.7],"nice":false,"zero":false},"axis":{"values":[80,120,160,200],"title":"SBP (mmHg)"}},"y2":{"field":"hi"}}},
    {"data":{"name":"fitF"},"mark":{"type":"line","color":"#555","strokeWidth":0.9,"strokeDash":[1.5,1.5]},"encoding":{"y":{"field":"lo","type":"quantitative"}}},
    {"data":{"name":"fitF"},"mark":{"type":"line","color":"#555","strokeWidth":0.9,"strokeDash":[1.5,1.5]},"encoding":{"y":{"field":"hi","type":"quantitative"}}},
    {"data":{"name":"ptF"},"mark":{"type":"circle","size":18,"color":"#4b9ef2","opacity":1},"encoding":{"y":{"field":"y","type":"quantitative"}}},
    {"data":{"name":"fitF"},"mark":{"type":"line","color":"#f23b3b","strokeWidth":1.5},"encoding":{"y":{"field":"y","type":"quantitative"}}},
    {"data":{"name":"annF"},"mark":{"type":"text","fontSize":11,"fontStyle":"italic","align":"left","baseline":"middle"},"encoding":{"y":{"field":"y","type":"quantitative"},"text":{"field":"sym"}}},
    {"data":{"name":"annF"},"transform":[{"filter":"datum.sym == 'r'"}],"mark":{"type":"text","fontSize":11,"align":"left","baseline":"middle","dx":6.8},"encoding":{"y":{"field":"y","type":"quantitative"},"text":{"field":"val"}}},
    {"data":{"name":"annF"},"transform":[{"filter":"datum.sym == 'P'"}],"mark":{"type":"text","fontSize":11,"align":"left","baseline":"middle","dx":10.4},"encoding":{"y":{"field":"y","type":"quantitative"},"text":{"field":"val"}}}
   ]},
  {"width":45.3,"height":1,"data":{"values":[]},"mark":"point"},
  {"width":210,"height":151.7,
   "encoding":{"x":{"field":"x","type":"quantitative","scale":{"domain":[0,120],"nice":false,"zero":false},"axis":{"values":[0,30,60,90,120],"title":"Serum VEGFA level (pg/ml)"}}},
   "layer":[
    {"data":{"name":"fitG"},"mark":{"type":"area","color":"#d4d4d4"},"encoding":{"y":{"field":"lo","type":"quantitative","scale":{"domain":[60,120],"range":[151.7,10.7],"nice":false,"zero":false},"axis":{"values":[60,80,100,120],"title":"DBP (mmHg)"}},"y2":{"field":"hi"}}},
    {"data":{"name":"fitG"},"mark":{"type":"line","color":"#555","strokeWidth":0.9,"strokeDash":[1.5,1.5]},"encoding":{"y":{"field":"lo","type":"quantitative"}}},
    {"data":{"name":"fitG"},"mark":{"type":"line","color":"#555","strokeWidth":0.9,"strokeDash":[1.5,1.5]},"encoding":{"y":{"field":"hi","type":"quantitative"}}},
    {"data":{"name":"ptG"},"mark":{"type":"circle","size":18,"color":"#8c7b2c","opacity":1},"encoding":{"y":{"field":"y","type":"quantitative"}}},
    {"data":{"name":"fitG"},"mark":{"type":"line","color":"#f23b3b","strokeWidth":1.5},"encoding":{"y":{"field":"y","type":"quantitative"}}},
    {"data":{"name":"annG"},"mark":{"type":"text","fontSize":11,"fontStyle":"italic","align":"left","baseline":"middle"},"encoding":{"y":{"field":"y","type":"quantitative"},"text":{"field":"sym"}}},
    {"data":{"name":"annG"},"transform":[{"filter":"datum.sym == 'r'"}],"mark":{"type":"text","fontSize":11,"align":"left","baseline":"middle","dx":6.8},"encoding":{"y":{"field":"y","type":"quantitative"},"text":{"field":"val"}}},
    {"data":{"name":"annG"},"transform":[{"filter":"datum.sym == 'P'"}],"mark":{"type":"text","fontSize":11,"align":"left","baseline":"middle","dx":10.4},"encoding":{"y":{"field":"y","type":"quantitative"},"text":{"field":"val"}}}
   ]}
 ]},
 {"spacing":0,"bounds":"flush","hconcat":[
  {"width":42.3,"height":213.5,"data":{"values":[]},"mark":"point"},
  {"width":211,"height":159.8,"title":{"text":"H","dx":-40,"offset":-13.3},
   "encoding":{"x":{"field":"x","type":"quantitative","scale":{"domain":[0,120],"nice":false,"zero":false},"axis":{"values":[0,30,60,90,120],"title":"Serum VEGFA level (pg/ml)"}}},
   "layer":[
    {"data":{"name":"fitH"},"mark":{"type":"area","color":"#d4d4d4"},"encoding":{"y":{"field":"lo","type":"quantitative","scale":{"domain":[80,200],"range":[159.8,19.2],"nice":false,"zero":false},"axis":{"values":[80,120,160,200],"title":"SBP (mmHg)"}},"y2":{"field":"hi"}}},
    {"data":{"name":"fitH"},"mark":{"type":"line","color":"#555","strokeWidth":0.9,"strokeDash":[1.5,1.5]},"encoding":{"y":{"field":"lo","type":"quantitative"}}},
    {"data":{"name":"fitH"},"mark":{"type":"line","color":"#555","strokeWidth":0.9,"strokeDash":[1.5,1.5]},"encoding":{"y":{"field":"hi","type":"quantitative"}}},
    {"data":{"name":"ptH"},"mark":{"type":"circle","size":18,"color":"#8c7b2c","opacity":1},"encoding":{"y":{"field":"y","type":"quantitative"}}},
    {"data":{"name":"fitH"},"mark":{"type":"line","color":"#f23b3b","strokeWidth":1.5},"encoding":{"y":{"field":"y","type":"quantitative"}}},
    {"data":{"name":"annH"},"mark":{"type":"text","fontSize":11,"fontStyle":"italic","align":"left","baseline":"middle"},"encoding":{"y":{"field":"y","type":"quantitative"},"text":{"field":"sym"}}},
    {"data":{"name":"annH"},"transform":[{"filter":"datum.sym == 'r'"}],"mark":{"type":"text","fontSize":11,"align":"left","baseline":"middle","dx":6.8},"encoding":{"y":{"field":"y","type":"quantitative"},"text":{"field":"val"}}},
    {"data":{"name":"annH"},"transform":[{"filter":"datum.sym == 'P'"}],"mark":{"type":"text","fontSize":11,"align":"left","baseline":"middle","dx":10.4},"encoding":{"y":{"field":"y","type":"quantitative"},"text":{"field":"val"}}}
   ]},
  {"width":50,"height":1,"data":{"values":[]},"mark":"point"},
  {"width":211.7,"height":159.8,"title":{"text":"I","dx":-34,"offset":-13.3},
   "encoding":{"x":{"field":"x","type":"quantitative","scale":{"domain":[0,300],"nice":false,"zero":false},"axis":{"values":[0,60,120,180,240,300],"title":"Serum AGGF1 level (pg/ml)"}}},
   "layer":[
    {"data":{"name":"fitI"},"mark":{"type":"area","color":"#d4d4d4"},"encoding":{"y":{"field":"lo","type":"quantitative","scale":{"domain":[60,120],"range":[159.8,19.2],"nice":false,"zero":false},"axis":{"values":[60,80,100,120],"title":"DBP (mmHg)"}},"y2":{"field":"hi"}}},
    {"data":{"name":"fitI"},"mark":{"type":"line","color":"#555","strokeWidth":0.9,"strokeDash":[1.5,1.5]},"encoding":{"y":{"field":"lo","type":"quantitative"}}},
    {"data":{"name":"fitI"},"mark":{"type":"line","color":"#555","strokeWidth":0.9,"strokeDash":[1.5,1.5]},"encoding":{"y":{"field":"hi","type":"quantitative"}}},
    {"data":{"name":"ptI"},"mark":{"type":"circle","size":18,"color":"#d19b45","opacity":1},"encoding":{"y":{"field":"y","type":"quantitative"}}},
    {"data":{"name":"fitI"},"mark":{"type":"line","color":"#f23b3b","strokeWidth":1.5},"encoding":{"y":{"field":"y","type":"quantitative"}}},
    {"data":{"name":"annI"},"mark":{"type":"text","fontSize":11,"fontStyle":"italic","align":"left","baseline":"middle"},"encoding":{"y":{"field":"y","type":"quantitative"},"text":{"field":"sym"}}},
    {"data":{"name":"annI"},"transform":[{"filter":"datum.sym == 'r'"}],"mark":{"type":"text","fontSize":11,"align":"left","baseline":"middle","dx":6.8},"encoding":{"y":{"field":"y","type":"quantitative"},"text":{"field":"val"}}},
    {"data":{"name":"annI"},"transform":[{"filter":"datum.sym == 'P'"}],"mark":{"type":"text","fontSize":11,"align":"left","baseline":"middle","dx":10.4},"encoding":{"y":{"field":"y","type":"quantitative"},"text":{"field":"val"}}}
   ]},
  {"width":44.3,"height":1,"data":{"values":[]},"mark":"point"},
  {"width":210.7,"height":159.8,"title":{"text":"J","dx":-39,"offset":-13.3},
   "encoding":{"x":{"field":"x","type":"quantitative","scale":{"domain":[0,300],"nice":false,"zero":false},"axis":{"values":[0,60,120,180,240,300],"title":"Serum AGGF1 level (pg/ml)"}}},
   "layer":[
    {"data":{"name":"fitJ"},"mark":{"type":"area","color":"#d4d4d4"},"encoding":{"y":{"field":"lo","type":"quantitative","scale":{"domain":[80,200],"range":[159.8,19.2],"nice":false,"zero":false},"axis":{"values":[80,120,160,200],"title":"SBP (mmHg)"}},"y2":{"field":"hi"}}},
    {"data":{"name":"fitJ"},"mark":{"type":"line","color":"#555","strokeWidth":0.9,"strokeDash":[1.5,1.5]},"encoding":{"y":{"field":"lo","type":"quantitative"}}},
    {"data":{"name":"fitJ"},"mark":{"type":"line","color":"#555","strokeWidth":0.9,"strokeDash":[1.5,1.5]},"encoding":{"y":{"field":"hi","type":"quantitative"}}},
    {"data":{"name":"ptJ"},"mark":{"type":"circle","size":18,"color":"#d19b45","opacity":1},"encoding":{"y":{"field":"y","type":"quantitative"}}},
    {"data":{"name":"fitJ"},"mark":{"type":"line","color":"#f23b3b","strokeWidth":1.5},"encoding":{"y":{"field":"y","type":"quantitative"}}},
    {"data":{"name":"annJ"},"mark":{"type":"text","fontSize":11,"fontStyle":"italic","align":"left","baseline":"middle"},"encoding":{"y":{"field":"y","type":"quantitative"},"text":{"field":"sym"}}},
    {"data":{"name":"annJ"},"transform":[{"filter":"datum.sym == 'r'"}],"mark":{"type":"text","fontSize":11,"align":"left","baseline":"middle","dx":6.8},"encoding":{"y":{"field":"y","type":"quantitative"},"text":{"field":"val"}}},
    {"data":{"name":"annJ"},"transform":[{"filter":"datum.sym == 'P'"}],"mark":{"type":"text","fontSize":11,"align":"left","baseline":"middle","dx":10.4},"encoding":{"y":{"field":"y","type":"quantitative"},"text":{"field":"val"}}}
   ]}
 ]},
 {"spacing":0,"bounds":"flush","hconcat":[
  {"width":175,"height":150,"data":{"values":[]},"mark":"point"},
  {"width":211.7,"height":168.3,"title":{"text":"K","dx":-43,"offset":-18},
   "encoding":{"x":{"field":"x","type":"quantitative","scale":{"domain":[0,25],"nice":false,"zero":false},"axis":{"values":[0,5,10,15,20,25],"title":"Serum ANGPT1 level (ng/ml)"}}},
   "layer":[
    {"data":{"name":"fitK"},"mark":{"type":"area","color":"#d4d4d4"},"encoding":{"y":{"field":"lo","type":"quantitative","scale":{"domain":[60,120],"range":[168.3,28.3],"nice":false,"zero":false},"axis":{"values":[60,80,100,120],"title":"DBP (mmHg)"}},"y2":{"field":"hi"}}},
    {"data":{"name":"fitK"},"mark":{"type":"line","color":"#555","strokeWidth":0.9,"strokeDash":[1.5,1.5]},"encoding":{"y":{"field":"lo","type":"quantitative"}}},
    {"data":{"name":"fitK"},"mark":{"type":"line","color":"#555","strokeWidth":0.9,"strokeDash":[1.5,1.5]},"encoding":{"y":{"field":"hi","type":"quantitative"}}},
    {"data":{"name":"ptK"},"mark":{"type":"circle","size":18,"color":"#1fbf7a","opacity":1},"encoding":{"y":{"field":"y","type":"quantitative"}}},
    {"data":{"name":"fitK"},"mark":{"type":"line","color":"#f23b3b","strokeWidth":1.5},"encoding":{"y":{"field":"y","type":"quantitative"}}},
    {"data":{"name":"annK"},"mark":{"type":"text","fontSize":11,"fontStyle":"italic","align":"left","baseline":"middle"},"encoding":{"y":{"field":"y","type":"quantitative"},"text":{"field":"sym"}}},
    {"data":{"name":"annK"},"transform":[{"filter":"datum.sym == 'r'"}],"mark":{"type":"text","fontSize":11,"align":"left","baseline":"middle","dx":6.8},"encoding":{"y":{"field":"y","type":"quantitative"},"text":{"field":"val"}}},
    {"data":{"name":"annK"},"transform":[{"filter":"datum.sym == 'P'"}],"mark":{"type":"text","fontSize":11,"align":"left","baseline":"middle","dx":10.4},"encoding":{"y":{"field":"y","type":"quantitative"},"text":{"field":"val"}}}
   ]},
  {"width":69.3,"height":1,"data":{"values":[]},"mark":"point"},
  {"width":209.2,"height":168.3,"title":{"text":"L","dx":-44,"offset":-18},
   "encoding":{"x":{"field":"x","type":"quantitative","scale":{"domain":[0,25],"nice":false,"zero":false},"axis":{"values":[0,5,10,15,20,25],"title":"Serum ANGPT1 level (ng/ml)"}}},
   "layer":[
    {"data":{"name":"fitL"},"mark":{"type":"area","color":"#d4d4d4"},"encoding":{"y":{"field":"lo","type":"quantitative","scale":{"domain":[80,200],"range":[168.3,28.3],"nice":false,"zero":false},"axis":{"values":[80,120,160,200],"title":"SBP (mmHg)"}},"y2":{"field":"hi"}}},
    {"data":{"name":"fitL"},"mark":{"type":"line","color":"#555","strokeWidth":0.9,"strokeDash":[1.5,1.5]},"encoding":{"y":{"field":"lo","type":"quantitative"}}},
    {"data":{"name":"fitL"},"mark":{"type":"line","color":"#555","strokeWidth":0.9,"strokeDash":[1.5,1.5]},"encoding":{"y":{"field":"hi","type":"quantitative"}}},
    {"data":{"name":"ptL"},"mark":{"type":"circle","size":18,"color":"#1fbf7a","opacity":1},"encoding":{"y":{"field":"y","type":"quantitative"}}},
    {"data":{"name":"fitL"},"mark":{"type":"line","color":"#f23b3b","strokeWidth":1.5},"encoding":{"y":{"field":"y","type":"quantitative"}}},
    {"data":{"name":"annL"},"mark":{"type":"text","fontSize":11,"fontStyle":"italic","align":"left","baseline":"middle"},"encoding":{"y":{"field":"y","type":"quantitative"},"text":{"field":"sym"}}},
    {"data":{"name":"annL"},"transform":[{"filter":"datum.sym == 'r'"}],"mark":{"type":"text","fontSize":11,"align":"left","baseline":"middle","dx":6.8},"encoding":{"y":{"field":"y","type":"quantitative"},"text":{"field":"val"}}},
    {"data":{"name":"annL"},"transform":[{"filter":"datum.sym == 'P'"}],"mark":{"type":"text","fontSize":11,"align":"left","baseline":"middle","dx":10.4},"encoding":{"y":{"field":"y","type":"quantitative"},"text":{"field":"val"}}}
   ]}
 ]}
]
}
